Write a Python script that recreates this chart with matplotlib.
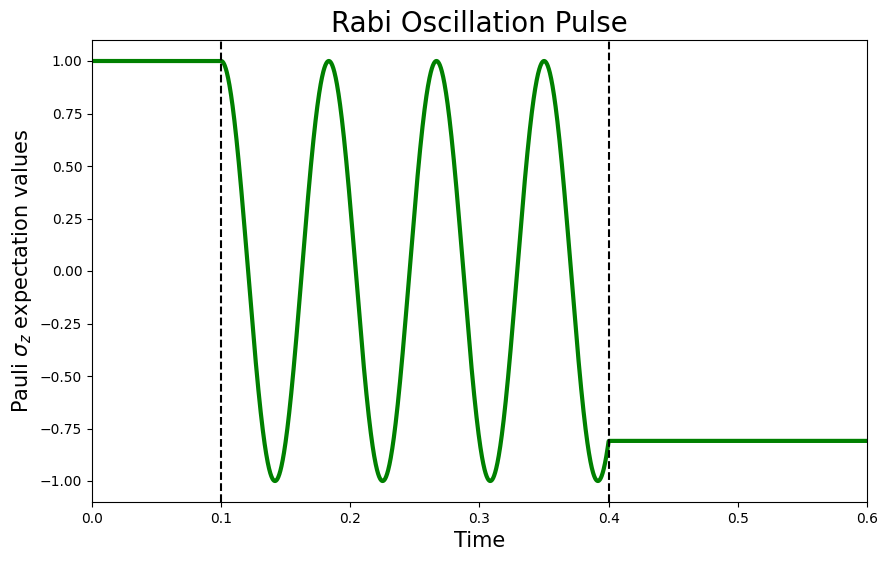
import numpy as np
import matplotlib.pyplot as plt

# values
pulse_start = 0.1
pulse_end = 0.4
rabi_freq = 12.0  # oscillations per unit time (period ~0.0833)
t_max = 0.6

t = np.linspace(0, t_max, 3000)
phase = 2 * np.pi * rabi_freq * (np.clip(t, pulse_start, pulse_end) - pulse_start)
sz = np.cos(phase)

fig = plt.figure(figsize=(8.87, 5.61), dpi=100)
ax = fig.add_axes([92 / 887, 59 / 561, 775 / 887, 462 / 561])
ax.plot(t, sz, color='green', linewidth=3)
ax.axvline(pulse_start, color='k', linestyle='--', linewidth=1.5)
ax.axvline(pulse_end, color='k', linestyle='--', linewidth=1.5)
ax.set_xlim(0, t_max)
ax.set_ylim(-1.1, 1.1)
ax.set_title('Rabi Oscillation Pulse', fontsize=20)
ax.set_xlabel('Time', fontsize=15)
ax.set_ylabel(r'Pauli $\sigma_z$ expectation values', fontsize=15)

plt.savefig('out.png', dpi=100)
